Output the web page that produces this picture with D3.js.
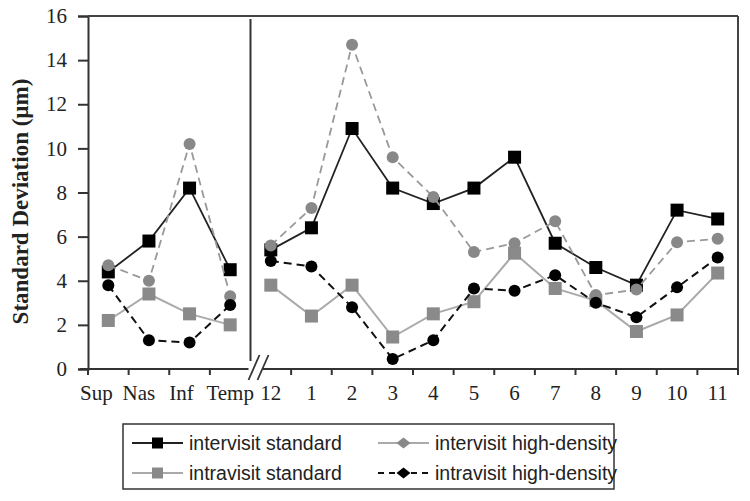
<!DOCTYPE html>
<html>
<head>
<meta charset="utf-8">
<script src="https://cdn.jsdelivr.net/npm/d3@7/dist/d3.min.js"></script>
<style>
  html, body { margin: 0; padding: 0; background: #fff; }
  svg { display: block; }
</style>
</head>
<body>
<svg id="chart" width="750" height="501"></svg>
<script>
const categories = ["Sup","Nas","Inf","Temp","12","1","2","3","4","5","6","7","8","9","10","11"];
const leftCount = 4;
const yTicks = [0,2,4,6,8,10,12,14,16];

const intervisitStandard    = [4.4,5.8,8.2,4.5, 5.4,6.4,10.9,8.2,7.5,8.2,9.6,5.7,4.6,3.8,7.2,6.8];
const intervisitHighDensity = [4.7,4.0,10.2,3.3, 5.6,7.3,14.7,9.6,7.8,5.3,5.7,6.7,3.35,3.6,5.75,5.9];
const intravisitStandard    = [2.2,3.4,2.5,2.0, 3.8,2.4,3.8,1.45,2.5,3.05,5.25,3.65,3.1,1.7,2.45,4.35];
const intravisitHighDensity = [3.8,1.3,1.2,2.9, 4.9,4.65,2.8,0.45,1.3,3.65,3.55,4.25,3.0,2.35,3.7,5.05];

const seriesNames = ["intervisit standard","intervisit high-density","intravisit standard","intravisit high-density"];

const svg = d3.select("#chart");
const L = 88, R = 738, T = 16, B = 369;

const x = d3.scaleBand().domain(categories).range([L, R]).padding(0);
const y = d3.scaleLinear().domain([0, 16]).range([B, T]);
const cx = c => x(c) + x.bandwidth() / 2;

const serifFont = "'Liberation Serif','Times New Roman',serif";
const sansFont = "'Liberation Sans',Arial,sans-serif";

// Y axis
const yAxis = svg.append("g").attr("transform", `translate(${L},0)`)
  .call(d3.axisLeft(y).tickValues(yTicks).tickSize(10).tickPadding(11).tickFormat(d3.format("d")));
yAxis.attr("font-size", 21).attr("font-family", serifFont);
yAxis.select(".domain").attr("stroke", "#333").attr("stroke-width", 2);
yAxis.selectAll(".tick line").attr("stroke", "#333").attr("stroke-width", 2);
yAxis.selectAll("text").attr("fill", "#222");

// top border & right border
svg.append("line").attr("x1", L).attr("x2", R).attr("y1", y(16)).attr("y2", y(16))
  .attr("stroke", "#444").attr("stroke-width", 2);
svg.append("line").attr("x1", R).attr("x2", R).attr("y1", y(16)).attr("y2", B + 5)
  .attr("stroke", "#444").attr("stroke-width", 2);

// separator
const sepX = x(categories[leftCount]);
svg.append("line").attr("x1", sepX).attr("x2", sepX).attr("y1", y(16) + 3).attr("y2", B - 8)
  .attr("stroke", "#333").attr("stroke-width", 2);

// X axis
const labelShift = { "Sup": -12, "Nas": -10, "Inf": -8 };
const xAxis = svg.append("g").attr("transform", `translate(0,${B})`)
  .call(d3.axisBottom(x).tickSize(0).tickPadding(0));
xAxis.attr("font-size", 21).attr("font-family", serifFont);
xAxis.select(".domain").remove();
xAxis.selectAll("text").attr("fill", "#222")
  .attr("dy", null).attr("y", 31).attr("dx", d => labelShift[d] || 0);
svg.append("line").attr("x1", L - 8).attr("x2", R).attr("y1", B).attr("y2", B)
  .attr("stroke", "#333").attr("stroke-width", 2);
// boundary ticks
const bounds = categories.map(c => x(c)).concat([R]).filter((v, i) => i !== leftCount);
svg.append("g").selectAll("line").data(bounds).join("line")
  .attr("x1", d => d).attr("x2", d => d).attr("y1", B).attr("y2", B + 6)
  .attr("stroke", "#333").attr("stroke-width", 2);

// break marker
const brk = svg.append("g");
brk.append("rect").attr("x", sepX - 2).attr("y", B - 2).attr("width", 14).attr("height", 4).attr("fill", "#fff");
[0, 9].forEach(off => {
  brk.append("line").attr("x1", sepX - 2 + off).attr("y1", B + 11)
    .attr("x2", sepX + 9 + off).attr("y2", B - 14)
    .attr("stroke", "#333").attr("stroke-width", 1.8);
});

// Y title
svg.append("text")
  .attr("transform", `translate(28,${(T + B) / 2 + 9}) rotate(-90)`)
  .attr("text-anchor", "middle")
  .attr("font-family", serifFont).attr("font-weight", "bold").attr("font-size", 23).attr("fill", "#222")
  .text("Standard Deviation (µm)");

// series
const series = [
  { name: seriesNames[0], values: intervisitStandard, line: "#222", width: 1.8, dash: null, marker: "square", fill: "#000", size: 13 },
  { name: seriesNames[2], values: intravisitStandard, line: "#aaa", width: 2, dash: null, marker: "square", fill: "#8a8a8a", size: 13 },
  { name: seriesNames[1], values: intervisitHighDensity, line: "#999", width: 1.8, dash: "8,5", marker: "circle", fill: "#888", size: 12 },
  { name: seriesNames[3], values: intravisitHighDensity, line: "#111", width: 2, dash: "8,5", marker: "circle", fill: "#000", size: 12 }
];

const lineGen = d3.line().x(d => cx(d.c)).y(d => y(d.v));

series.forEach(s => {
  const pts = categories.map((c, i) => ({ c, v: s.values[i] }));
  const groups = [pts.slice(0, leftCount), pts.slice(leftCount)];
  const g = svg.append("g");
  groups.forEach(gr => {
    g.append("path").attr("d", lineGen(gr)).attr("fill", "none")
      .attr("stroke", s.line).attr("stroke-width", s.width)
      .attr("stroke-dasharray", s.dash);
  });
  if (s.marker === "square") {
    g.selectAll("rect").data(pts).join("rect")
      .attr("x", d => cx(d.c) - s.size / 2).attr("y", d => y(d.v) - s.size / 2)
      .attr("width", s.size).attr("height", s.size).attr("fill", s.fill);
  } else {
    g.selectAll("circle").data(pts).join("circle")
      .attr("cx", d => cx(d.c)).attr("cy", d => y(d.v)).attr("r", s.size / 2).attr("fill", s.fill);
  }
});

// Legend
const lg = svg.append("g");
lg.append("rect").attr("x", 123).attr("y", 424).attr("width", 491).attr("height", 65)
  .attr("fill", "#fff").attr("stroke", "#333").attr("stroke-width", 1.5);
const legendDefs = [
  { name: seriesNames[0], x: 132, y: 443, line: "#222", dash: null, marker: "square", fill: "#000" },
  { name: seriesNames[2], x: 132, y: 473, line: "#aaa", dash: null, marker: "square", fill: "#8a8a8a" },
  { name: seriesNames[1], x: 378, y: 443, line: "#aaa", dash: null, marker: "diamond", fill: "#888" },
  { name: seriesNames[3], x: 378, y: 473, line: "#111", dash: "6,5", marker: "diamond", fill: "#000" }
];
legendDefs.forEach(d => {
  lg.append("line").attr("x1", d.x).attr("x2", d.x + 51).attr("y1", d.y).attr("y2", d.y)
    .attr("stroke", d.line).attr("stroke-width", 2).attr("stroke-dasharray", d.dash);
  const mx = d.x + 25.5;
  if (d.marker === "square") {
    lg.append("rect").attr("x", mx - 5.5).attr("y", d.y - 5.5).attr("width", 11).attr("height", 11).attr("fill", d.fill);
  } else {
    lg.append("path").attr("d", `M${mx - 7},${d.y} L${mx},${d.y - 5.5} L${mx + 7},${d.y} L${mx},${d.y + 5.5} Z`).attr("fill", d.fill);
  }
  lg.append("text").attr("x", d.x + 57).attr("y", d.y).attr("dy", "0.35em")
    .attr("font-family", sansFont).attr("font-size", 19.5).attr("fill", "#222")
    .text(d.name);
});
</script>
</body>
</html>
